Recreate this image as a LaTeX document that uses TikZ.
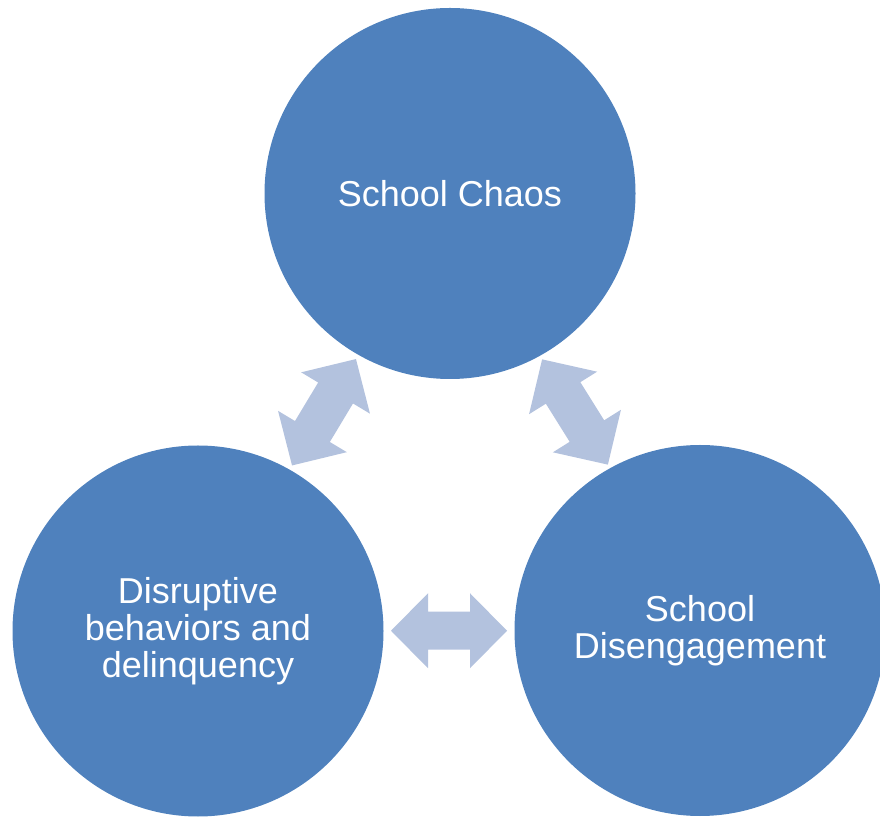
\documentclass[tikz,border=0pt]{standalone}
\usepackage{fontspec}
\setmainfont{Liberation Sans}
\usepackage{tikz}
\usetikzlibrary{calc}
\definecolor{circblue}{RGB}{79,129,189}
\definecolor{arrowblue}{RGB}{179,194,222}

\begin{document}
\begin{tikzpicture}[x=1pt,y=1pt,
	bubble/.style={circle,fill=circblue,minimum size=371pt,inner sep=0pt,align=center,text=white,font=\fontsize{36}{37}\selectfont},
	twoway/.style={fill=arrowblue}]
					\useasboundingbox (0,0) rectangle (880,819);
					\clip (0,0) rectangle (880,819);
					
					\node[bubble] (chaos) at (450,625.5) {School Chaos};
					\node[bubble] (disrupt) at (198,188) {Disruptive\\behaviors and\\delinquency};
					\node[bubble] (diseng) at (700,188.5) {School\\Disengagement};
					
					\begin{scope}[shift={($(disrupt)!0.5!(chaos)$)},rotate=59,scale=1.07]
						\fill[twoway] (-58,0) -- (-21,37.5) -- (-21,19) -- (21,19) -- (21,37.5) -- (58,0) -- (21,-37.5) -- (21,-19) -- (-21,-19) -- (-21,-37.5) -- cycle;
					\end{scope}
					\begin{scope}[shift={($(chaos)!0.5!(diseng)$)},rotate=-58,scale=1.07]
						\fill[twoway] (-58,0) -- (-21,37.5) -- (-21,19) -- (21,19) -- (21,37.5) -- (58,0) -- (21,-37.5) -- (21,-19) -- (-21,-19) -- (-21,-37.5) -- cycle;
					\end{scope}
					\begin{scope}[shift={($(disrupt)!0.5!(diseng)$)}]
						\fill[twoway] (-58,0) -- (-21,37.5) -- (-21,19) -- (21,19) -- (21,37.5) -- (58,0) -- (21,-37.5) -- (21,-19) -- (-21,-19) -- (-21,-37.5) -- cycle;
					\end{scope}
				\end{tikzpicture}
\end{document}
